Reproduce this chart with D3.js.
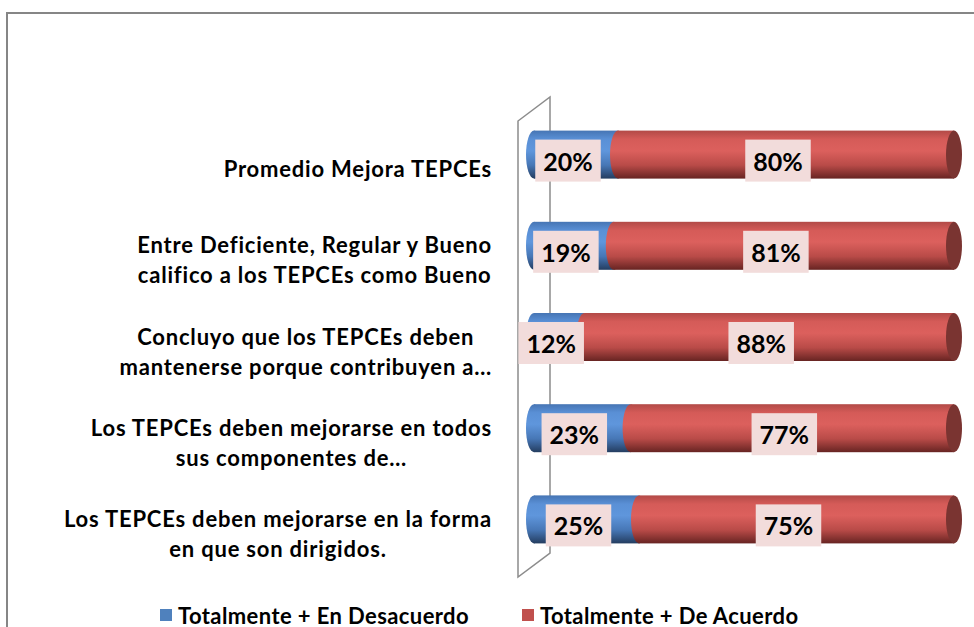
<!DOCTYPE html>
<html>
<head>
<meta charset="utf-8">
<script src="https://cdn.jsdelivr.net/npm/d3@7"></script>
<style>
  body { margin: 0; background: #fff; }
  text { font-family: Lato, "Open Sans", sans-serif; font-weight: 700; }
</style>
</head>
<body>
<svg id="vis"></svg>
<script>
// data
const categoryLines = [
    ["Promedio Mejora TEPCEs"],
    ["Entre Deficiente, Regular y Bueno", "califico a los TEPCEs como Bueno"],
    ["Concluyo que los TEPCEs  deben", "mantenerse porque contribuyen a…"],
    ["Los TEPCEs deben mejorarse en todos", "sus componentes de…"],
    ["Los TEPCEs deben mejorarse en la forma", "en que son dirigidos."]
];
const desacuerdo = [20, 19, 12, 23, 25];
const acuerdo = [80, 81, 88, 77, 75];
const seriesNames = ["Totalmente + En Desacuerdo", "Totalmente + De Acuerdo"];

function main()
{
    const width = 974;
    const height = 627;

    let svg = d3.select('#vis')
        .attr('width', width)
        .attr('height', height);

    const cats = categoryLines.map(d => d.join(" "));

    const depth = {dx: 32, dy: 24};
    const front = {left: 518, top: 121, bottom: 577};

    let xScale = d3.scaleLinear()
        .domain([0, 100])
        .range([534, 954]);

    // bars sit half way into the 3d depth
    let yScale = d3.scaleBand()
        .domain(cats)
        .range([front.top - depth.dy / 2, front.bottom - depth.dy / 2]);

    let yFront = d3.scaleBand()
        .domain(cats)
        .range([front.top, front.bottom]);

    const barH = 48;
    const rx = 8;

    // gradients for the cylinders
    let defs = svg.append("defs");
    const grads = [
        {id: "gBlue", stops: [["0%", "#4675b4"], ["18%", "#5a90d6"], ["42%", "#5f96dc"], ["72%", "#4777b6"], ["100%", "#243d60"]]},
        {id: "gRed", stops: [["0%", "#b24a47"], ["18%", "#d55b58"], ["42%", "#dc605d"], ["72%", "#b94b48"], ["100%", "#672422"]]}
    ];
    grads.forEach(g => {
        let lg = defs.append("linearGradient").attr("id", g.id)
            .attr("x1", 0).attr("y1", 0).attr("x2", 0).attr("y2", 1);
        g.stops.forEach(s => lg.append("stop").attr("offset", s[0]).attr("stop-color", s[1]));
    });

    // chart frame
    svg.append("rect")
        .attr("x", 7).attr("y", 13)
        .attr("width", 1100).attr("height", 800)
        .attr("fill", "none")
        .attr("stroke", "#868686")
        .attr("stroke-width", 2);

    // 3d side wall
    const x0 = front.left;
    svg.append("path")
        .attr("d", "M" + x0 + "," + front.top + "L" + (x0 + depth.dx) + "," + (front.top - depth.dy)
            + "L" + (x0 + depth.dx) + "," + (front.bottom - depth.dy)
            + "L" + x0 + "," + front.bottom + "Z")
        .attr("fill", "none")
        .attr("stroke", "#8c8c8c")
        .attr("stroke-width", 1.5);

    // stacked cylinders
    const segs = [
        {vals: desacuerdo, fill: "url(#gBlue)", start: i => 0},
        {vals: acuerdo, fill: "url(#gRed)", start: i => desacuerdo[i]}
    ];

    segs.forEach(s => {
        let g = svg.append("g");
        cats.forEach((c, i) => {
            const cy = yScale(c) + yScale.bandwidth() / 2;
            const xa = xScale(s.start(i));
            const xb = xScale(s.start(i) + s.vals[i]);
            g.append("rect")
                .attr("x", xa).attr("y", cy - barH / 2)
                .attr("width", xb - xa).attr("height", barH)
                .attr("fill", s.fill);
            g.append("ellipse")
                .attr("cx", xa).attr("cy", cy)
                .attr("rx", rx).attr("ry", barH / 2)
                .attr("fill", s.fill);
        });
    });

    // end caps
    svg.append("g")
        .selectAll("ellipse")
        .data(cats)
        .enter()
        .append("ellipse")
        .attr("cx", (c, i) => xScale(desacuerdo[i] + acuerdo[i]))
        .attr("cy", c => yScale(c) + yScale.bandwidth() / 2)
        .attr("rx", rx).attr("ry", barH / 2)
        .attr("fill", "#7a3431");

    // data labels
    let labels = svg.append("g");
    segs.forEach(s => {
        cats.forEach((c, i) => {
            const cy = yScale(c) + yScale.bandwidth() / 2 + 6;
            const cx = (xScale(s.start(i)) + xScale(s.start(i) + s.vals[i])) / 2 - rx;
            let lg = labels.append("g");
            let box = lg.append("rect").attr("fill", "#f2dcdb");
            let t = lg.append("text")
                .attr("x", cx).attr("y", cy)
                .attr("text-anchor", "middle")
                .attr("dominant-baseline", "central")
                .style("font-size", "25px")
                .attr("fill", "#000")
                .text(s.vals[i] + "%");
            const w = t.node().getComputedTextLength() + 16;
            box.attr("x", cx - w / 2).attr("y", cy - 21)
                .attr("width", w).attr("height", 42);
        });
    });

    // category labels
    const lineH = 30;
    const rightEdge = 492;
    let catG = svg.append("g");
    categoryLines.forEach((lines, i) => {
        const cy = yFront(cats[i]) + yFront.bandwidth() / 2 + 2;
        let ts = lines.map((l, j) => catG.append("text")
            .attr("y", cy + (j - (lines.length - 1) / 2) * lineH)
            .attr("dominant-baseline", "central")
            .attr("text-anchor", "middle")
            .style("font-size", "22px")
            .style("letter-spacing", "0.8px")
            .attr("fill", "#000")
            .text(l));
        const maxW = d3.max(ts, t => t.node().getComputedTextLength());
        ts.forEach(t => t.attr("x", rightEdge - maxW / 2));
    });

    // legend
    const legendColors = ["#4f81bd", "#c0504d"];
    const legendX = [160, 522];
    let leg = svg.append("g")
        .selectAll("g")
        .data(seriesNames)
        .enter()
        .append("g")
        .attr("transform", (d, i) => "translate(" + legendX[i] + ",609)");
    leg.append("rect")
        .attr("width", 12).attr("height", 12)
        .attr("fill", (d, i) => legendColors[i]);
    leg.append("text")
        .attr("x", 18).attr("y", 6)
        .attr("dominant-baseline", "central")
        .style("font-size", "22px")
        .style("letter-spacing", "0.4px")
        .attr("fill", "#000")
        .text(d => d);
}
main();
</script>
</body>
</html>
